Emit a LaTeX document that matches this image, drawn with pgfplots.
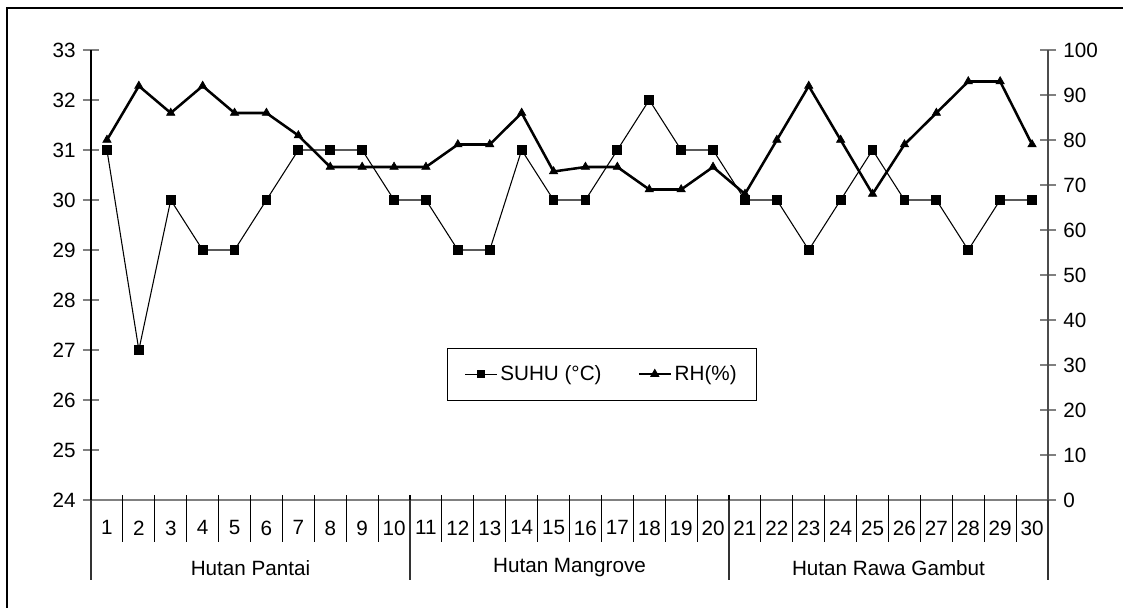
\documentclass[border=0pt]{standalone}
\usepackage{pgfplots}
\pgfplotsset{compat=1.18}
\usepackage{fontspec}
\setmainfont{Liberation Sans}
\newcommand{\lbl}{\fontsize{15.5}{18}\selectfont}
\begin{document}
\begin{tikzpicture}[x=1pt,y=1pt,font=\lbl]
\useasboundingbox (0,0) rectangle (842.25,455.25);
\draw[line width=1.5pt] (5.5,-10) -- (5.5,449.6) -- (860,449.6);
\begin{axis}[
  at={(68.25pt,80.25pt)}, anchor=south west,
  scale only axis, width=717.75pt, height=337.5pt,
  xmin=0.5, xmax=30.5, ymin=24, ymax=33,
  ytick={24,...,33},
  xtick={1,...,30},
  axis x line*=bottom, axis y line*=left,
  x axis line style={gray, line width=0.8pt},
  y axis line style={black, line width=0.8pt},
  tick align=center,
  major tick length=12pt,
  x tick style={draw=none},
  y tick style={gray, line width=0.8pt},
  /pgf/number format/assume math mode=true,
  tick label style={font=\lbl},
  yticklabel style={xshift=-2pt},
  xticklabel style={yshift=-6pt},
  clip=false,
]
\addplot[black, line width=0.8pt, mark=square*, mark size=3.3pt] coordinates {
(1,31)(2,27)(3,30)(4,29)(5,29)(6,30)(7,31)(8,31)(9,31)(10,30)
(11,30)(12,29)(13,29)(14,31)(15,30)(16,30)(17,31)(18,32)(19,31)(20,31)
(21,30)(22,30)(23,29)(24,30)(25,31)(26,30)(27,30)(28,29)(29,30)(30,30)};
\end{axis}
\begin{axis}[
  at={(68.25pt,80.25pt)}, anchor=south west,
  scale only axis, width=717.75pt, height=337.5pt,
  xmin=0.5, xmax=30.5, ymin=0, ymax=100,
  ytick={0,10,...,100},
  axis y line*=right, axis x line=none,
  y axis line style={black!70, line width=0.8pt},
  tick align=center,
  major tick length=12pt,
  y tick style={gray, line width=0.8pt},
  /pgf/number format/assume math mode=true,
  tick label style={font=\lbl},
  yticklabel style={xshift=2pt},
  clip=false,
  legend columns=2,
  legend style={at={(0.372,0.338)}, anchor=north west, draw=black, line width=0.6pt,
    font=\lbl, inner xsep=13pt, inner ysep=11pt,
    /tikz/every even column/.append style={column sep=25pt}},
  legend cell align=left,
  legend image code/.code={\draw[mark repeat=2,mark phase=2] plot coordinates {(0cm,0cm)(0.42cm,0cm)(0.84cm,0cm)};},
]
\addlegendimage{black, line width=0.8pt, mark=square*, mark size=2.8pt}
\addlegendentry{SUHU (°C)}
\addplot[black, line width=1.9pt, mark=triangle*, mark size=3.6pt, mark options={line width=0.5pt}] coordinates {
(1,80)(2,92)(3,86)(4,92)(5,86)(6,86)(7,81)(8,74)(9,74)(10,74)
(11,74)(12,79)(13,79)(14,86)(15,73)(16,74)(17,74)(18,69)(19,69)(20,74)
(21,68)(22,80)(23,92)(24,80)(25,68)(26,79)(27,86)(28,93)(29,93)(30,79)};
\addlegendentry{RH(\%)}
\end{axis}
% category separators
\foreach \k in {1,...,29} {
  \draw[black, line width=0.8pt] ({68.25+23.925*\k},84) -- ({68.25+23.925*\k},48.9);
}
\foreach \k in {0,10,20,30} {
  \draw[black!80, line width=0.8pt] ({68.25+23.925*\k},80.25) -- ({68.25+23.925*\k},20);
}
\node[font=\lbl] at (187.875,29.25) {Hutan Pantai};
\node[font=\lbl] at (427.125,29.25) {Hutan Mangrove};
\node[font=\lbl] at (666.375,29.25) {Hutan Rawa Gambut};
\end{tikzpicture}
\end{document}
